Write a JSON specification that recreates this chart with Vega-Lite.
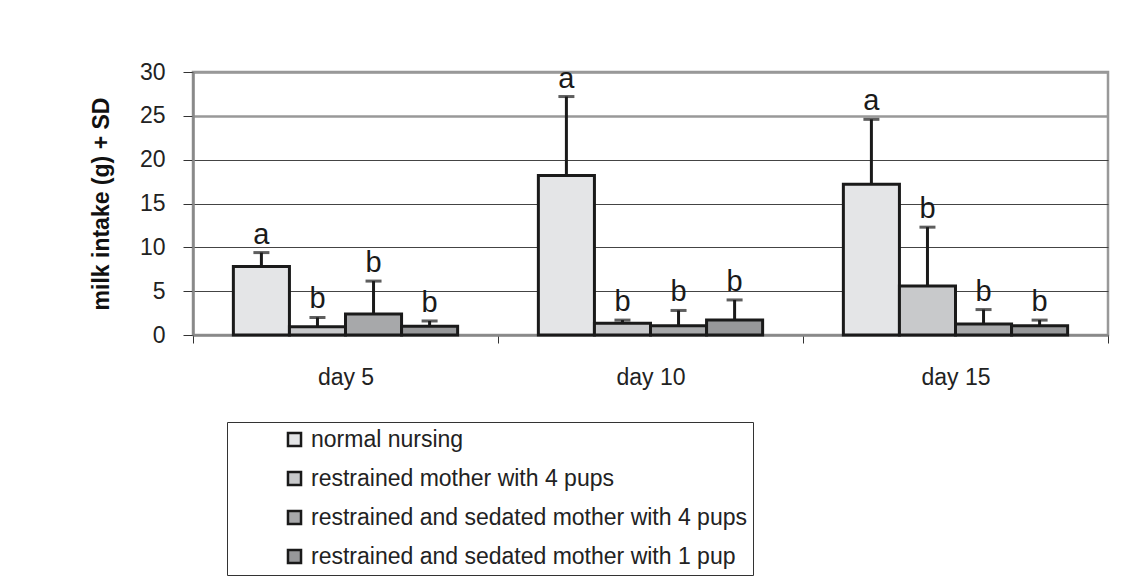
{
  "$schema": "https://vega.github.io/schema/vega-lite/v6.json",
  "width": 915,
  "height": 263,
  "autosize": "none",
  "padding": {"left": 193, "top": 72, "right": 39, "bottom": 247},
  "background": "white",
  "config": {
    "font": "Liberation Sans",
    "view": {"stroke": "#999999", "strokeWidth": 2.5}
  },
  "data": {
    "values": [
      {"day": "day 5", "group": "normal nursing", "value": 7.8, "upper": 9.4, "letter": "a"},
      {"day": "day 5", "group": "restrained mother with 4 pups", "value": 0.95, "upper": 2.0, "letter": "b"},
      {"day": "day 5", "group": "restrained and sedated mother with 4 pups", "value": 2.4, "upper": 6.15, "letter": "b"},
      {"day": "day 5", "group": "restrained and sedated mother with 1 pup", "value": 1.0, "upper": 1.6, "letter": "b"},
      {"day": "day 10", "group": "normal nursing", "value": 18.2, "upper": 27.2, "letter": "a"},
      {"day": "day 10", "group": "restrained mother with 4 pups", "value": 1.33, "upper": 1.7, "letter": "b"},
      {"day": "day 10", "group": "restrained and sedated mother with 4 pups", "value": 1.06, "upper": 2.8, "letter": "b"},
      {"day": "day 10", "group": "restrained and sedated mother with 1 pup", "value": 1.7, "upper": 4.0, "letter": "b"},
      {"day": "day 15", "group": "normal nursing", "value": 17.2, "upper": 24.6, "letter": "a"},
      {"day": "day 15", "group": "restrained mother with 4 pups", "value": 5.6, "upper": 12.3, "letter": "b"},
      {"day": "day 15", "group": "restrained and sedated mother with 4 pups", "value": 1.25, "upper": 2.9, "letter": "b"},
      {"day": "day 15", "group": "restrained and sedated mother with 1 pup", "value": 1.06, "upper": 1.7, "letter": "b"}
    ]
  },
  "encoding": {
    "x": {
      "field": "day",
      "type": "nominal",
      "sort": ["day 5", "day 10", "day 15"],
      "scale": {"paddingInner": 0, "paddingOuter": 0},
      "axis": {
        "title": null,
        "labelAngle": 0,
        "labelFontSize": 23,
        "labelColor": "#222222",
        "labelPadding": 23,
        "tickBand": "extent",
        "tickSize": 8,
        "tickColor": "#333333",
        "domainColor": "#888888",
        "domainWidth": 2.5
      }
    },
    "xOffset": {
      "field": "group",
      "type": "nominal",
      "sort": ["normal nursing", "restrained mother with 4 pups", "restrained and sedated mother with 4 pups", "restrained and sedated mother with 1 pup"],
      "scale": {"paddingInner": 0, "paddingOuter": 0.72}
    }
  },
  "layer": [
    {
      "mark": {"type": "bar", "stroke": "#1a1a1a", "strokeWidth": 3},
      "encoding": {
        "y": {
          "field": "value",
          "type": "quantitative",
          "scale": {"domain": [0, 30], "nice": false},
          "axis": {
            "title": "milk intake (g) + SD",
            "titleFontSize": 23,
            "titleFontWeight": "bold",
            "titleColor": "#111111",
            "titlePadding": 26,
            "values": [0, 5, 10, 15, 20, 25, 30],
            "labelFontSize": 23,
            "labelColor": "#222222",
            "labelPadding": 18,
            "tickSize": 10,
            "tickColor": "#333333",
            "domainColor": "#888888",
            "domainWidth": 2.5,
            "grid": true,
            "gridColor": {"condition": {"test": "datum.value >= 25", "value": "#999999"}, "value": "#444444"},
            "gridWidth": {"condition": {"test": "datum.value >= 25", "value": 2.5}, "value": 1}
          }
        },
        "fill": {
          "field": "group",
          "type": "nominal",
          "scale": {
            "domain": ["normal nursing", "restrained mother with 4 pups", "restrained and sedated mother with 4 pups", "restrained and sedated mother with 1 pup"],
            "range": ["#e4e5e7", "#c8c9cb", "#a7a8aa", "#97989a"]
          },
          "legend": {
            "title": null,
            "orient": "none",
            "legendX": 34,
            "legendY": 350,
            "direction": "vertical",
            "padding": 6,
            "strokeColor": "#333333",
            "fillColor": "white",
            "symbolType": "square",
            "symbolSize": 170,
            "symbolStrokeColor": "#1a1a1a",
            "symbolStrokeWidth": 2.5,
            "symbolOpacity": 1,
            "symbolOffset": 50,
            "labelFontSize": 23,
            "labelColor": "#222222",
            "labelOffset": 5,
            "labelLimit": 700,
            "rowPadding": 14
          }
        }
      }
    },
    {
      "mark": {"type": "rule", "color": "#1a1a1a", "strokeWidth": 3},
      "encoding": {
        "y": {"field": "value", "type": "quantitative"},
        "y2": {"field": "upper"}
      }
    },
    {
      "mark": {"type": "tick", "color": "#1a1a1a", "thickness": 3, "size": 16, "orient": "horizontal"},
      "encoding": {
        "y": {"field": "upper", "type": "quantitative"}
      }
    },
    {
      "mark": {"type": "text", "fontSize": 29, "color": "#1a1a1a", "baseline": "alphabetic", "dy": -9},
      "encoding": {
        "y": {"field": "upper", "type": "quantitative"},
        "text": {"field": "letter"}
      }
    }
  ]
}
